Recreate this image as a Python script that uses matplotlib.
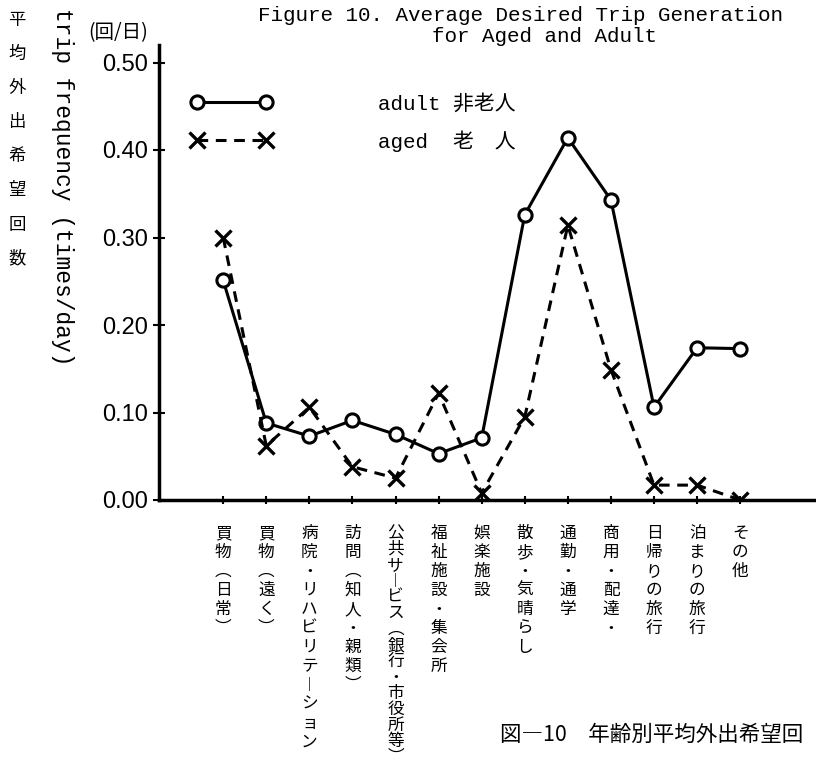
import matplotlib
matplotlib.use('Agg')
import matplotlib.pyplot as plt
from matplotlib.lines import Line2D

# trip purposes (vertical labels, ︵︶ are the vertical parentheses)
categories = ["買物︵日常︶", "買物︵遠く︶", "病院・リハビリテ︱ション", "訪問︵知人・親類︶",
              "公共サ︱ビス︵銀行・市役所等︶", "福祉施設・集会所", "娯楽施設", "散歩・気晴らし",
              "通勤・通学", "商用・配達・", "日帰りの旅行", "泊まりの旅行", "その他"]
adult = [0.251, 0.088, 0.073, 0.091, 0.075, 0.053, 0.071, 0.326, 0.414, 0.343, 0.106, 0.174, 0.173]
aged = [0.300, 0.062, 0.106, 0.038, 0.025, 0.122, 0.008, 0.095, 0.314, 0.149, 0.017, 0.017, 0.000]
yticks = [0.0, 0.1, 0.2, 0.3, 0.4, 0.5]

MONO = ['Liberation Mono', 'Noto Sans CJK JP']
JP = ['Noto Sans CJK JP', 'DejaVu Sans']

fig = plt.figure(figsize=(8.16, 7.67), dpi=100)
ax = fig.add_axes([159/816, 1 - 500/767, 657/816, 455/767])

x = list(range(len(categories)))
adult_style = dict(color='black', lw=2.2, marker='o', ms=9.5, mfc='white', mec='black', mew=2.2)
aged_style = dict(color='black', lw=2.2, ls=(0, (3.5, 2.5)), marker='x', ms=11, mew=2.4)
ax.plot(x, adult, zorder=3, **adult_style)
ax.plot(x, aged, zorder=3, **aged_style)

ax.set_xlim(-1.49, 13.76)
ax.set_ylim(0, 0.52)
for s in ['top', 'right']:
    ax.spines[s].set_visible(False)
ax.spines['left'].set_linewidth(2.5)
ax.spines['bottom'].set_linewidth(2.5)

ax.set_yticks(yticks)
ax.set_yticklabels(["%.2f" % v for v in yticks], fontsize=17, family='Liberation Sans')
ax.tick_params(axis='y', direction='inout', length=8, width=1.5, pad=4)
ax.set_xticks(x)
ax.set_xticklabels([])
ax.tick_params(axis='x', direction='inout', length=6, width=1.5)

# vertical category labels, one glyph per step (px); long ones are packed tighter
for i, lab in enumerate(categories):
    step = min(19.0, 224.0 / (len(lab) - 1))
    for k, ch in enumerate(lab):
        off = 25 + k * step
        ax.annotate(ch, xy=(i, 0), xycoords=('data', 'axes fraction'),
                    xytext=(0, -off * 0.72), textcoords='offset points',
                    ha='center', va='top', fontsize=12, family=JP, annotation_clip=False)

# legend
h_adult = Line2D([], [], **adult_style)
h_aged = Line2D([], [], **aged_style)
leg = ax.legend([h_adult, h_aged], ["adult 非老人", "aged  老\u3000人"], numpoints=2,
                loc='upper left', bbox_to_anchor=(0.048, 0.893), frameon=False,
                handlelength=3.9, handletextpad=5.1, labelspacing=0.8, borderpad=0,
                borderaxespad=0, prop={'family': MONO, 'size': 15})

# titles and axis captions
fig.text(258/816, 1 - 21/767, "Figure 10. Average Desired Trip Generation",
         family=MONO, fontsize=15, va='baseline')
fig.text(432/816, 1 - 42/767, "for Aged and Adult", family=MONO, fontsize=15, va='baseline')
fig.text(88/816, 1 - 33/767, "(回/日)", family=JP, fontsize=14, va='center')
fig.text(17/816, 1 - 11/767, "\n".join("平均外出希望回数"), family=JP, fontsize=12.5,
         va='top', ha='center', linespacing=2.15)
fig.text(62/816, 1 - 8/767, "trip frequency (times/day)", family=MONO, fontsize=16.5,
         rotation=270, va='top', ha='center')
fig.text(500/816, 1 - 735/767, "図―10　年齢別平均外出希望回", family=JP, fontsize=15.5,
         va='center')

fig.savefig('out.png', dpi=100)
